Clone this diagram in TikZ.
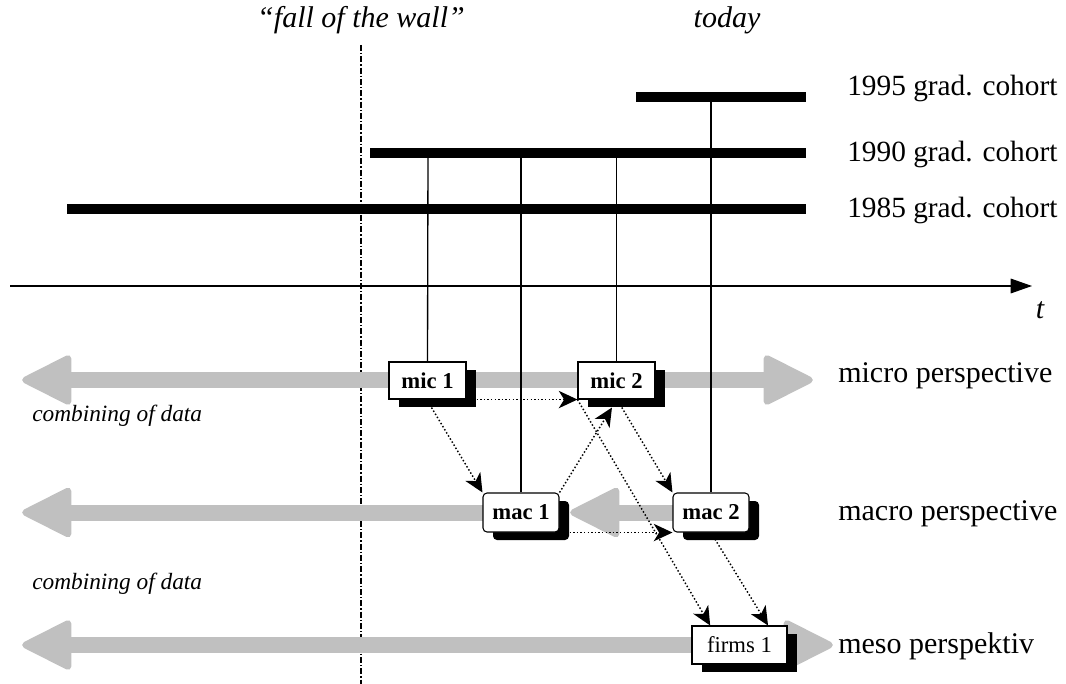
\documentclass[tikz,border=0pt]{standalone}
\usepackage{fontspec}
\setmainfont{Liberation Serif}
\usetikzlibrary{arrows.meta,shadows}
\pgfdeclarelayer{bg}
\pgfsetlayers{bg,main}
\definecolor{bandgray}{RGB}{192,192,192}
\tikzset{
  lhead/.pic={\filldraw[bandgray,line width=5pt,line join=round] (3.5,0) -- (46,-21.5) -- (46,21.5) -- cycle;},
  rhead/.pic={\filldraw[bandgray,line width=5pt,line join=round] (-3.5,0) -- (-46,-21.5) -- (-46,21.5) -- cycle;},
  shaft/.style={bandgray,line width=12pt},
  bar/.style={line width=7.5pt},
  vline/.style={line width=1pt},
  wall/.style={line width=0.9pt,dash pattern=on 4.5pt off 1.5pt on 1pt off 1.5pt},
  lbl/.style={anchor=base west,inner sep=0,font=\fontsize{22.5}{26}\selectfont},
  cohl/.style={anchor=base west,inner sep=0,font=\fontsize{22}{26}\selectfont},
  ital/.style={anchor=base,inner sep=0,font=\fontsize{22.5}{26}\selectfont\itshape},
  comb/.style={anchor=base west,inner sep=0,font=\fontsize{17.5}{20}\selectfont\itshape},
  boxshadow/.style={drop shadow={fill=black,opacity=1,shadow xshift=7.5pt,shadow yshift=-6pt}},
  mbox/.style={draw,line width=0.8pt,fill=white,inner sep=0,boxshadow,
    font=\fontsize{17}{20}\selectfont\bfseries},
  micbox/.style={mbox,minimum width=57.75pt,minimum height=27.75pt},
  macbox/.style={mbox,rounded corners=3pt,minimum width=57pt,minimum height=29.25pt},
  firmbox/.style={mbox,minimum width=71.25pt,minimum height=28.5pt,font=\fontsize{17}{20}\selectfont},
  darrow/.style={line width=1.1pt,dash pattern=on 1.1pt off 1.6pt,
    -{Stealth[length=14pt,width=13pt,inset=4pt]}}
}
\begin{document}
\begin{tikzpicture}[x=0.75pt,y=-0.75pt]
\useasboundingbox (0,0) rectangle (1066,684);

% headings
\node[ital] (fall) at (361,28) {``fall of the wall''};
\node[ital] (today) at (727,28) {today};

% cohort bars
\coordinate (b95a) at (636,97);  \coordinate (b95b) at (806,97);
\coordinate (b90a) at (370,153); \coordinate (b90b) at (806,153);
\coordinate (b85a) at (67,209);  \coordinate (b85b) at (806,209);
\draw[bar] (b95a) -- (b95b);
\draw[bar] (b90a) -- (b90b);
\draw[bar] (b85a) -- (b85b);
\node[cohl] (l95) at (847,96) {1995 grad. cohort};
\node[cohl] (l90) at (847,162) {1990 grad. cohort};
\node[cohl] (l85) at (847,218) {1985 grad. cohort};

% time axis
\coordinate (ax0) at (10,286);
\coordinate (ax1) at (1032,286);
\draw[line width=0.9pt,-{Triangle[length=16pt,width=11pt]}] (ax0) -- (ax1);
\node[inner sep=0,font=\fontsize{22.5}{26}\selectfont\itshape] (t) at (1040,310) {t};

% boxes
\node[micbox] (mic1) at (427.5,380.5) {mic 1};
\node[micbox] (mic2) at (616.5,380.5) {mic 2};
\node[macbox] (mac1) at (521,512.5) {mac 1};
\node[macbox] (mac2) at (711,512.5) {mac 2};
\node[firmbox] (firms1) at (739.5,645) {firms 1};

% perspective labels
\node[lbl] (lmicro) at (838,382) {micro perspective};
\node[lbl] (lmacro) at (838,520) {macro perspective};
\node[lbl] (lmeso) at (838,653) {meso perspektiv};
\node[comb] (comb1) at (32,421) {combining of data};
\node[comb] (comb2) at (32,589) {combining of data};

\begin{pgfonlayer}{bg}
  \coordinate (w0) at (361,45);
  \coordinate (w1) at (361,684);
  \draw[wall] (w0) -- (w1);
  % gray bands
  \draw[shaft] (40,380) -- (795,380);
  \pic at (22,380) {lhead};
  \pic at (813,380) {rhead};
  \draw[shaft] (40,512.5) -- (mac1.center);
  \pic at (22,512.5) {lhead};
  \draw[shaft] (590,512.5) -- (mac2.center);
  \pic at (570,512.5) {lhead};
  \draw[shaft] (40,645) -- (815,645);
  \pic at (22,645) {lhead};
  \pic at (833,645) {rhead};
  % vertical links
  \coordinate (v1) at (428,153);
  \coordinate (v2) at (521,153);
  \coordinate (v3) at (616.5,153);
  \coordinate (v4) at (711,97);
  \draw[vline] (v1) -- (mic1.north);
  \draw[vline] (v2) -- (mac1.north);
  \draw[vline] (v3) -- (mic2.north);
  \draw[vline] (v4) -- (mac2.north);
\end{pgfonlayer}

% dotted arrows
\draw[darrow] ([xshift=7.5pt]mic1.south east) -- (mic2.south west);
\draw[darrow] ([xshift=3pt,yshift=-6pt]mic1.south) -- (mac1.north west);
\draw[darrow] (mac1.north east) -- ([xshift=-3.4pt,yshift=-6pt]mic2.south);
\draw[darrow] (mic2.south west) -- ([xshift=-22pt]firms1.north);
\draw[darrow] ([xshift=4pt,yshift=-6pt]mic2.south) -- (mac2.north west);
\draw[darrow] ([xshift=7.5pt]mac1.south east) -- (mac2.south west);
\draw[darrow] ([xshift=3pt,yshift=-5pt]mac2.south) -- ([xshift=21.4pt]firms1.north);
\end{tikzpicture}
\end{document}
